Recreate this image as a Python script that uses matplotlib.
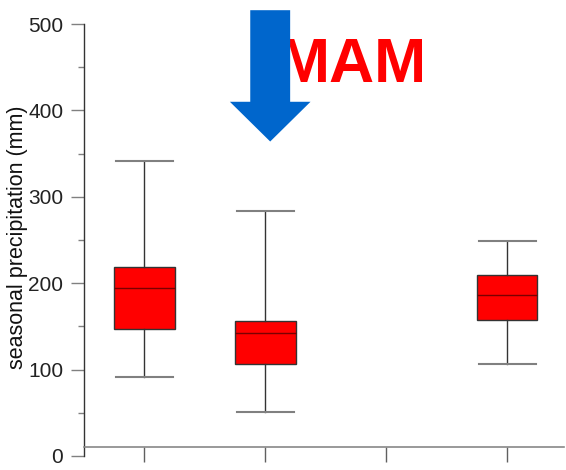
import matplotlib
matplotlib.use("Agg")
import matplotlib.pyplot as plt
from matplotlib.patches import FancyArrow
from matplotlib.ticker import MultipleLocator

plt.rcParams['font.family'] = ['Liberation Sans', 'DejaVu Sans']

# seasonal precipitation statistics (mm) per group
positions = [1, 2, 4]
whisker_low = [92, 51, 107]
q1 = [147, 106, 157]
median = [194, 142, 186]
q3 = [219, 156, 210]
whisker_high = [342, 284, 249]

season = 'MAM'

stats = []
for i in range(len(positions)):
    stats.append({'whislo': whisker_low[i], 'q1': q1[i], 'med': median[i],
                  'q3': q3[i], 'whishi': whisker_high[i], 'fliers': []})

fig = plt.figure(figsize=(5.66, 4.70), dpi=100)
ax = fig.add_axes([0.1484, 0.0298, 0.8481, 0.9191])

ax.bxp(stats, positions=positions, widths=0.5, patch_artist=True,
       showfliers=False,
       boxprops=dict(facecolor='#ff0000', edgecolor='#333333', linewidth=1.0),
       medianprops=dict(color='#7a0000', linewidth=1.0),
       whiskerprops=dict(color='#333333', linewidth=1.0),
       capprops=dict(color='#808080', linewidth=1.5),
       capwidths=0.47)

ax.set_xlim(0.5, 4.47)
ax.set_ylim(0, 500)
ax.set_xticks([1, 2, 3, 4])
ax.set_xticklabels([])
ax.yaxis.set_major_locator(MultipleLocator(100))
ax.yaxis.set_minor_locator(MultipleLocator(50))

ax.spines['top'].set_visible(False)
ax.spines['right'].set_visible(False)
ax.spines['left'].set_color('#333333')
ax.spines['bottom'].set_color('#888888')
ax.spines['left'].set_linewidth(1.0)
ax.spines['bottom'].set_linewidth(1.2)
ax.spines['bottom'].set_position(('data', 10))

ax.tick_params(axis='y', which='major', length=9.4, width=1.0, color='#808080',
               labelsize=15, pad=5.5, labelcolor='#222222')
ax.tick_params(axis='y', which='minor', length=4.5, width=1.0, color='#808080')
ax.tick_params(axis='x', which='major', length=10.8, width=1.0, color='#606060')

ax.set_ylabel('seasonal precipitation (mm)', fontsize=15.5, color='#111111')
ax.yaxis.set_label_coords(-0.117, 0.507)

ax.text(2.103, 433, season, color='#ff0000', fontsize=45, fontweight='bold',
        ha='left', va='baseline', zorder=5, clip_on=False)

arrow = FancyArrow(2.04, 516, 0, -152, width=0.33, head_width=0.667,
                   head_length=46, length_includes_head=True,
                   color='#0066cc', linewidth=0, zorder=6, clip_on=False)
ax.add_patch(arrow)

fig.savefig('out.png', dpi=100)
